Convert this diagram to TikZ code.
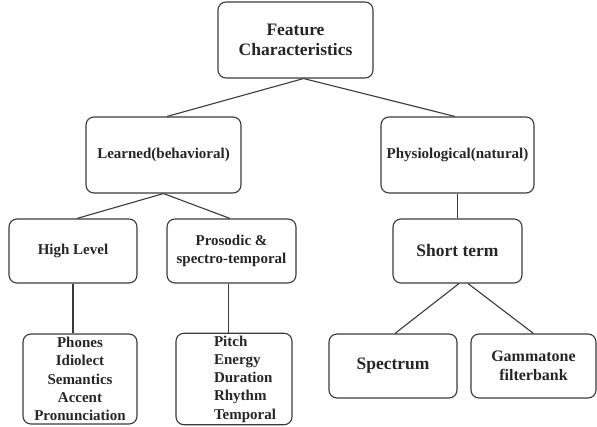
\documentclass[tikz,border=0pt]{standalone}
\usepackage{fontspec}
\setmainfont{Liberation Serif}[BoldFont={Liberation Serif Bold}]
\usetikzlibrary{calc}
\definecolor{ink}{HTML}{3A3A3A}
\definecolor{txt}{HTML}{262626}
\tikzset{
  box/.style={draw=ink, line width=1.1pt, rounded corners=8pt, inner sep=0pt,
    align=center, text=txt, font=\bfseries\fontsize{15}{18.3}\selectfont},
  big/.style={font=\bfseries\fontsize{17.5}{20}\selectfont},
  link/.style={draw=ink, line width=1.1pt}
}
\begin{document}
\begin{tikzpicture}[x=1pt,y=-1pt]
\useasboundingbox (0,0) rectangle (597,427);
% level 0
\node[box,big, minimum width=155pt, minimum height=76pt] (fc) at (295.5,40) {Feature\\Characteristics};
% level 1
\node[box, minimum width=155pt, minimum height=76pt] (lb) at (163.5,155) {Learned(behavioral)};
\node[box, minimum width=153pt, minimum height=76pt] (ph) at (457.5,155) {Physiological(natural)};
% level 2
\node[box, minimum width=128pt, minimum height=64pt] (hl) at (73,251) {High Level};
\node[box, minimum width=129pt, minimum height=64pt] (pr) at (231.5,251) {Prosodic \&\\spectro-temporal};
\node[box,big, minimum width=129pt, minimum height=64pt] (st) at (457.5,251) {Short term};
% level 3
\node[box, minimum width=114pt, minimum height=90pt] (phn) at (80,379) {Phones\\Idiolect\\Semantics\\Accent\\Pronunciation};
\node[box, minimum width=116pt, minimum height=90pt] (pit) at (234,379)
  {\begin{tabular}{@{\hspace{22pt}}l@{}}Pitch\\Energy\\Duration\\Rhythm\\Temporal\end{tabular}};
\node[box,big, minimum width=128pt, minimum height=64pt] (sp) at (393,366) {Spectrum};
\node[box, minimum width=125pt, minimum height=64pt, font=\bfseries\fontsize{16}{19}\selectfont] (gm) at (533.5,366) {Gammatone\\filterbank};
% connectors
\draw[link] ($(fc.south)+(8,0)$) -- ($(lb.north)+(3.5,0)$);
\draw[link] ($(fc.south)+(8,0)$) -- ($(ph.north)+(-2.5,0)$);
\draw[link] (lb.south) -- ($(hl.north)+(4,0)$);
\draw[link] (lb.south) -- ($(pr.north)+(-1.5,0)$);
\draw[link] (ph.south) -- (st.north);
\draw[link] (hl.south) -- (hl.south |- phn.north);
\draw[link] ($(pr.south)+(-3,0)$) -- ($(pr.south |- pit.north)+(-3,0)$);
\draw[link] ($(st.south)+(1.5,0)$) -- ($(sp.north)+(2,0)$);
\draw[link] ($(st.south)+(10.5,0)$) -- (gm.north);
\end{tikzpicture}
\end{document}
